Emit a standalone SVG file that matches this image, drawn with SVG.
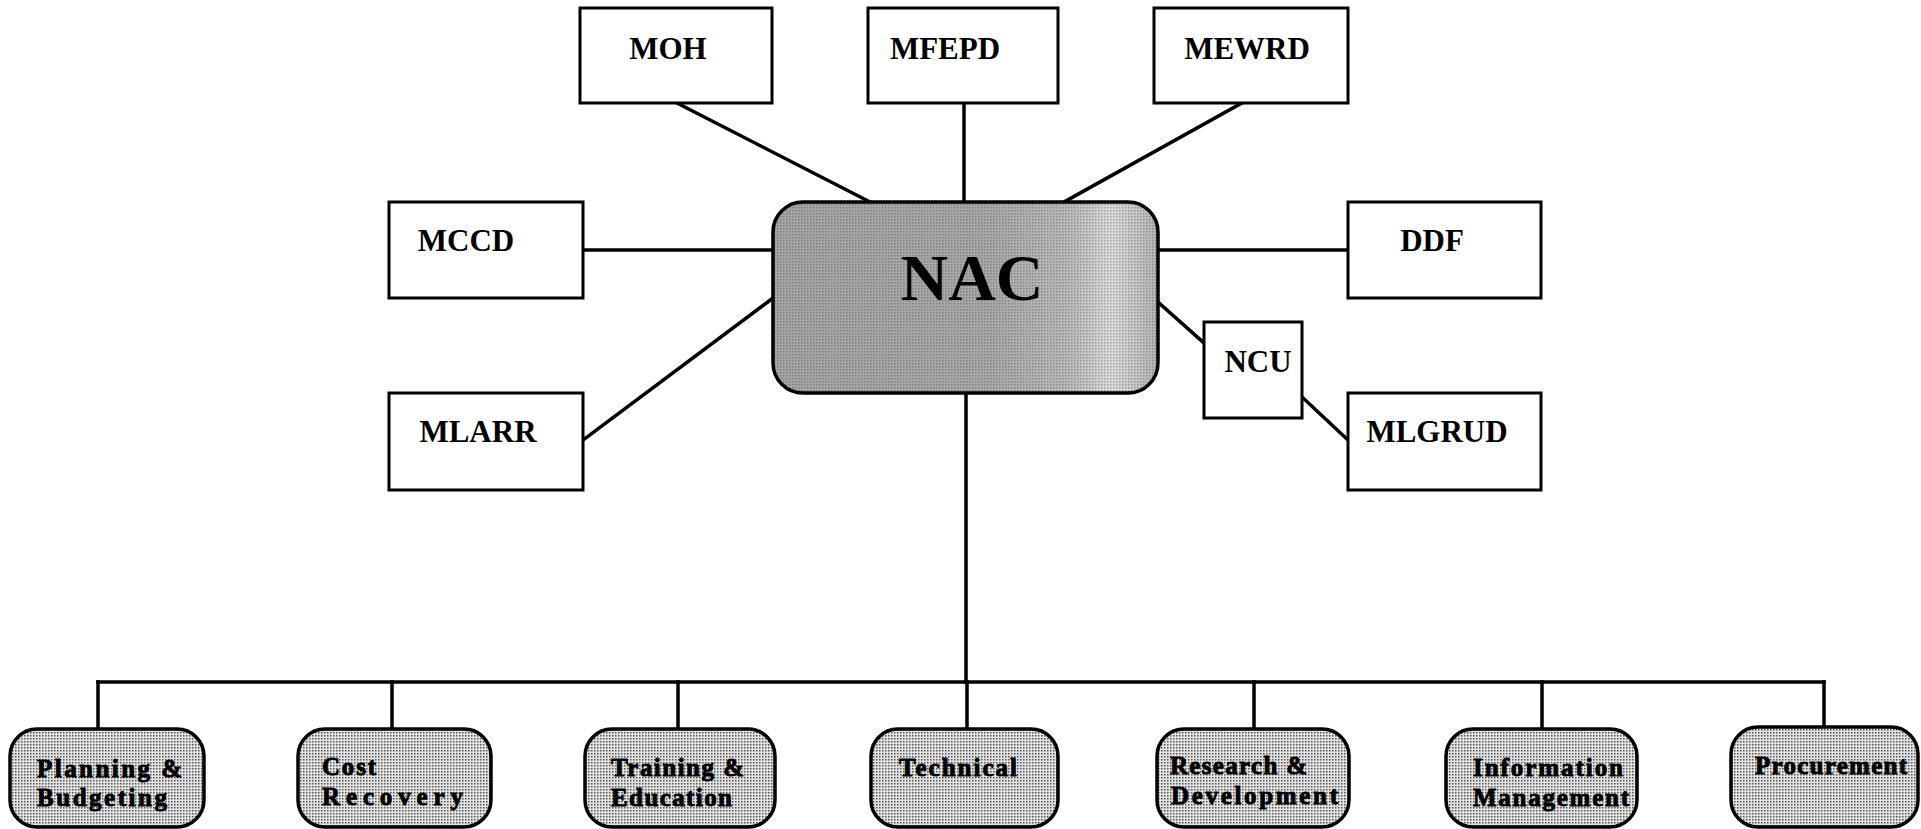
<svg xmlns="http://www.w3.org/2000/svg" width="1921" height="829" viewBox="0 0 1921 829">
<style>
.box{fill:#ffffff;stroke:#000;stroke-width:3}
.lbl{font-family:"Liberation Serif","Times New Roman",serif;font-weight:bold;font-size:31px;fill:#000;text-anchor:middle}
.dept{fill:url(#dots);stroke:#000;stroke-width:3.5}
.dl{font-family:"Liberation Serif","Times New Roman",serif;font-weight:900;font-size:25px;fill:#000;stroke:#000;stroke-width:0.9}
.conn line{stroke:#000;stroke-width:3.5;stroke-linecap:square}
</style>
<defs>
<pattern id="dots" width="3" height="3" patternUnits="userSpaceOnUse">
<rect width="3" height="3" fill="#e2e2e2"/><rect width="1.5" height="1.5" fill="#555"/>
</pattern>
<linearGradient id="nacg" x1="0" y1="0" x2="1" y2="0">
<stop offset="0" stop-color="#a6a6a6"/>
<stop offset="0.55" stop-color="#a9a9a9"/>
<stop offset="0.78" stop-color="#bdbdbd"/>
<stop offset="0.88" stop-color="#dcdcdc"/>
<stop offset="1" stop-color="#b4b4b4"/>
</linearGradient>
<pattern id="stip" width="3" height="3" patternUnits="userSpaceOnUse">
<rect width="1.5" height="1.5" fill="#000" fill-opacity="0.25"/>
</pattern>
</defs>
<g id="connectors" class="conn">
<line x1="677" y1="103" x2="870" y2="202"/>
<line x1="964" y1="103" x2="964" y2="202"/>
<line x1="1242" y1="103" x2="1064" y2="202"/>
<line x1="583" y1="250" x2="773" y2="250"/>
<line x1="1158" y1="250" x2="1348" y2="250"/>
<line x1="773" y1="298" x2="583" y2="440"/>
<line x1="1158" y1="302" x2="1204" y2="343"/>
<line x1="1302" y1="397" x2="1348" y2="440"/>
<line x1="966" y1="393" x2="966" y2="682"/>
<line x1="98" y1="682" x2="1824" y2="682"/>
<line x1="98" y1="682" x2="98" y2="729"/>
<line x1="392" y1="682" x2="392" y2="729"/>
<line x1="678" y1="682" x2="678" y2="729"/>
<line x1="967" y1="682" x2="967" y2="729"/>
<line x1="1254" y1="682" x2="1254" y2="729"/>
<line x1="1542" y1="682" x2="1542" y2="729"/>
<line x1="1824" y1="682" x2="1824" y2="729"/>
</g>
<g id="moh"><rect class="box" x="580" y="8" width="192" height="95"/><text class="lbl" x="668" y="59">MOH</text></g>
<g id="mfepd"><rect class="box" x="868" y="8" width="190" height="95"/><text class="lbl" x="945" y="59">MFEPD</text></g>
<g id="mewrd"><rect class="box" x="1154" y="8" width="194" height="95"/><text class="lbl" x="1247" y="59">MEWRD</text></g>
<g id="mccd"><rect class="box" x="389" y="202" width="194" height="96"/><text class="lbl" x="466" y="251">MCCD</text></g>
<g id="ddf"><rect class="box" x="1348" y="202" width="193" height="96"/><text class="lbl" x="1432" y="251">DDF</text></g>
<g id="mlarr"><rect class="box" x="389" y="393" width="194" height="97"/><text class="lbl" x="478" y="442">MLARR</text></g>
<g id="mlgrud"><rect class="box" x="1348" y="393" width="193" height="97"/><text class="lbl" x="1437" y="442">MLGRUD</text></g>
<g id="ncu"><rect class="box" x="1204" y="322" width="98" height="96"/><text class="lbl" x="1258" y="372">NCU</text></g>
<g id="nac">
<rect x="773" y="202" width="385" height="191" rx="30" fill="url(#nacg)"/>
<rect x="773" y="202" width="385" height="191" rx="30" fill="url(#stip)" stroke="#000" stroke-width="3.5"/>
<text class="lbl" x="972" y="300" style="font-size:66px">NAC</text>
</g>
<g id="planning"><rect class="dept" x="10" y="729" width="194" height="98" rx="27"/>
<text class="dl" x="37" y="777" textLength="145" lengthAdjust="spacing">Planning &amp;</text>
<text class="dl" x="37" y="806" textLength="130" lengthAdjust="spacing">Budgeting</text></g>
<g id="cost"><rect class="dept" x="298" y="729" width="193" height="98" rx="27"/>
<text class="dl" x="322" y="775" textLength="54" lengthAdjust="spacing">Cost</text>
<text class="dl" x="322" y="805" textLength="141" lengthAdjust="spacing">Recovery</text></g>
<g id="training"><rect class="dept" x="585" y="729" width="190" height="98" rx="27"/>
<text class="dl" x="611" y="776" textLength="133" lengthAdjust="spacing">Training &amp;</text>
<text class="dl" x="611" y="806" textLength="121" lengthAdjust="spacing">Education</text></g>
<g id="technical"><rect class="dept" x="871" y="729" width="187" height="98" rx="27"/>
<text class="dl" x="899" y="776" textLength="118" lengthAdjust="spacing">Technical</text></g>
<g id="research"><rect class="dept" x="1157" y="729" width="192" height="98" rx="27"/>
<text class="dl" x="1170" y="774" textLength="137" lengthAdjust="spacing">Research &amp;</text>
<text class="dl" x="1171" y="804" textLength="167" lengthAdjust="spacing">Development</text></g>
<g id="information"><rect class="dept" x="1446" y="729" width="191" height="98" rx="27"/>
<text class="dl" x="1473" y="776" textLength="150" lengthAdjust="spacing">Information</text>
<text class="dl" x="1473" y="806" textLength="156" lengthAdjust="spacing">Management</text></g>
<g id="procurement"><rect class="dept" x="1731" y="727" width="187" height="100" rx="27"/>
<text class="dl" x="1755" y="774" textLength="152" lengthAdjust="spacing">Procurement</text></g>
</svg>
